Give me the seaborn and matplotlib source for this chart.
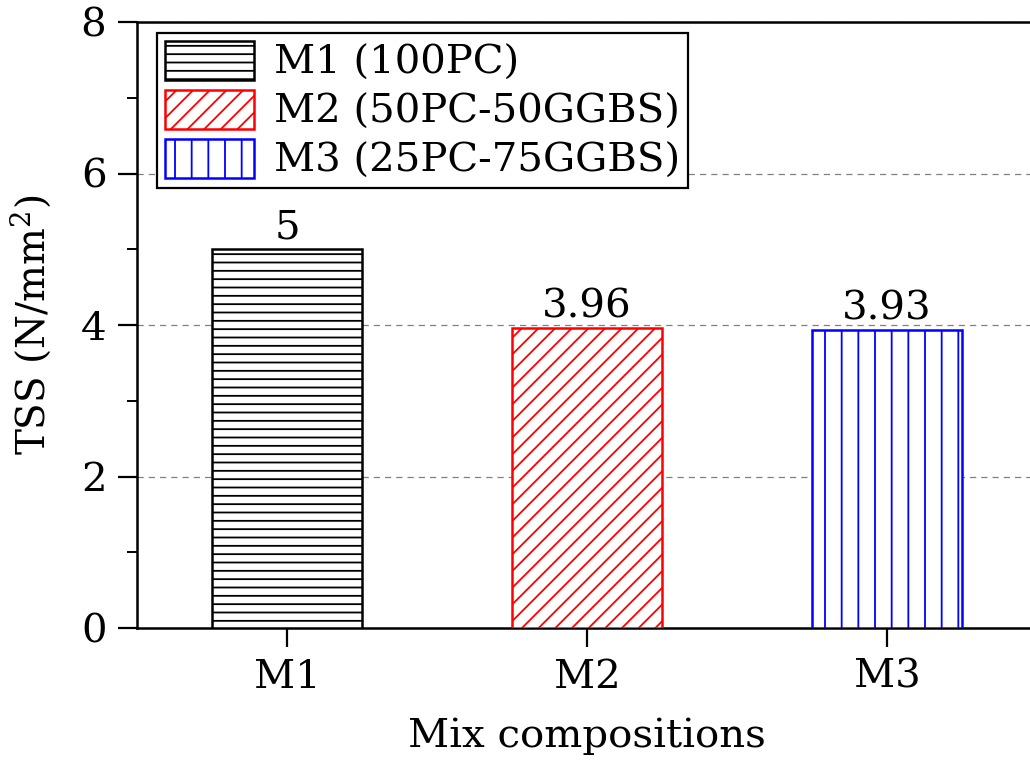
import matplotlib
matplotlib.use("Agg")
import matplotlib.pyplot as plt
from matplotlib.patches import Patch
import pandas as pd
import seaborn as sns

# data
mixes = ["M1", "M2", "M3"]
tss_values = [5.0, 3.96, 3.93]
value_labels = ["5", "3.96", "3.93"]
legend_labels = ["M1 (100PC)", "M2 (50PC-50GGBS)", "M3 (25PC-75GGBS)"]
edge_colors = ["black", "red", "blue"]
hatches = ["--", "//", "|"]

sns.set_style("ticks")
plt.rcParams["font.family"] = ["DejaVu Serif"]
plt.rcParams["mathtext.fontset"] = "dejavuserif"
plt.rcParams["hatch.linewidth"] = 1.3
for key in ["text.color", "axes.labelcolor", "xtick.color", "ytick.color"]:
    plt.rcParams[key] = "black"

df = pd.DataFrame({"mix": mixes, "tss": tss_values})

fig = plt.figure(figsize=(10.3, 7.6), dpi=100)
ax = fig.add_axes([137 / 1030, 132 / 760, 900 / 1030, 606 / 760])

sns.barplot(data=df, x="mix", y="tss", color="white", width=0.5, ax=ax,
            saturation=1, zorder=3)

for patch, ec, h in zip(ax.patches, edge_colors, hatches):
    patch.set_facecolor("white")
    patch.set_edgecolor(ec)
    patch.set_hatch(h)
    patch.set_linewidth(1.8)

ax.bar_label(ax.containers[0], labels=value_labels, padding=2, fontsize=29)

ax.set_ylim(0, 8)
ax.set_xlim(-0.5, 2.5)
ax.set_yticks([0, 2, 4, 6, 8])
ax.set_yticks([1, 3, 5, 7], minor=True)
ax.yaxis.grid(True, which="major", linestyle=(0, (5, 4)), color="gray", linewidth=0.9)
ax.set_axisbelow(True)

for side in ["left", "bottom", "top", "right"]:
    ax.spines[side].set_visible(True)
    ax.spines[side].set_linewidth(1.8)
    ax.spines[side].set_color("black")

ax.tick_params(axis="both", which="major", length=14, width=1.6, labelsize=29,
               direction="out", pad=8)
ax.tick_params(axis="y", which="minor", length=7, width=1.4, direction="out")

ax.set_xlabel("Mix compositions", fontsize=29, labelpad=16)
ax.set_ylabel("TSS (N/mm$^2$)", fontsize=28, labelpad=20)

handles = [Patch(facecolor="white", edgecolor=ec, hatch=h, linewidth=1.8)
           for ec, h in zip(edge_colors, hatches)]
leg = ax.legend(handles, legend_labels, loc="upper left", fontsize=29,
                frameon=True, fancybox=False, handlelength=2.2, handleheight=1.1,
                borderpad=0.2, labelspacing=0.2, handletextpad=0.5,
                borderaxespad=0.0, bbox_to_anchor=(20 / 900, 1 - 11 / 606))
leg.get_frame().set_edgecolor("black")
leg.get_frame().set_linewidth(1.6)
leg.get_frame().set_alpha(1)

fig.savefig("out.png", dpi=100)
